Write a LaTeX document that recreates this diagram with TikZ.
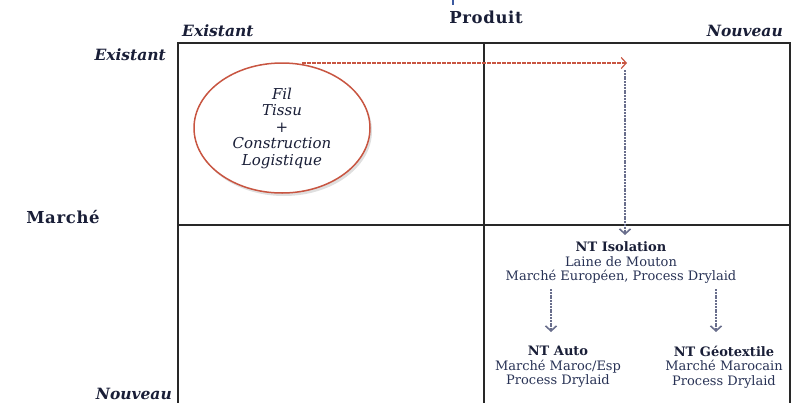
\documentclass[tikz,border=0pt]{standalone}
\usepackage{fontspec}
\setmainfont{DejaVu Serif}
\usetikzlibrary{arrows.meta,shadows,shapes.geometric}
\definecolor{ink}{RGB}{25,30,55}
\definecolor{bodyink}{RGB}{40,50,85}
\definecolor{gridline}{RGB}{40,40,40}
\definecolor{rust}{RGB}{200,85,65}
\definecolor{slate}{RGB}{105,110,140}
\definecolor{tickblue}{RGB}{60,90,160}
\begin{document}
\begin{tikzpicture}[x=1pt,y=-1pt,
  gridstyle/.style={draw=gridline,line width=1.5pt},
  axislabel/.style={font=\bfseries\fontsize{16.5}{18}\selectfont\addfontfeatures{LetterSpace=4},text=ink,inner sep=0pt},
  poslabel/.style={font=\bfseries\itshape\fontsize{15.5}{17}\selectfont,text=ink,inner sep=0pt},
  itemtext/.style={font=\fontsize{13}{14.5}\selectfont,text=bodyink,align=center,inner sep=0pt},
  flowarrow/.style={draw=slate,line width=1.8pt,dash pattern=on 2pt off 0.8pt,-{Straight Barb[length=5pt,width=11pt,line width=1.6pt]}},
  leadarrow/.style={draw=rust,line width=1.2pt,dash pattern=on 3.5pt off 1.5pt,-{Straight Barb[length=5pt,width=11pt]}}
]
\useasboundingbox (0,0) rectangle (795,402);

% small tick above the heading
\draw[tickblue,line width=1.4pt] (453,0) -- (453,5);

% matrix grid
\draw[gridstyle] (178,403) -- (178,43) -- (790,43) -- (790,403);
\draw[gridstyle] (484,43) -- (484,403);
\draw[gridstyle] (178,225) -- (790,225);

% axis headings
\node[axislabel] (produit) at (486,17) {Produit};
\node[axislabel] (marche) at (63,217) {Marché};
\node[poslabel,anchor=west] (pexist) at (182,31) {Existant};
\node[poslabel,anchor=east] (pnouv) at (783,31) {Nouveau};
\node[poslabel,anchor=east] (mexist) at (166,55) {Existant};
\node[poslabel,anchor=east] (mnouv) at (172,394) {Nouveau};

% current activities
\node[draw=rust,line width=1.5pt,fill=white,ellipse,minimum width=176pt,minimum height=130pt,
      drop shadow={shadow xshift=2pt,shadow yshift=-3pt,opacity=0.25},
      font=\itshape\fontsize{15}{16.5}\selectfont,text=ink,align=center,inner sep=0pt]
  (current) at (282,128) {Fil\\Tissu\\+\\Construction\\Logistique};
\coordinate (leadstart) at (302,63);
\coordinate (leadend) at (627,63);
\coordinate (dropstart) at (625,70);
\coordinate (dropend) at (625,235);

% new technologies
\node[itemtext] (iso) at (621,263) {\textbf{\textcolor{ink}{NT Isolation}}\\Laine de Mouton\\Marché Européen, Process Drylaid};
\node[itemtext] (auto) at (558,367) {\textbf{\textcolor{ink}{NT Auto}}\\Marché Maroc/Esp\\Process Drylaid};
\node[itemtext] (geo) at (724,367) {\textbf{\textcolor{ink}{NT Géotextile}}\\Marché Marocain\\Process Drylaid};
\coordinate (splitl) at (551,289);
\coordinate (splitr) at (716,289);
\coordinate (autoin) at (551,332);
\coordinate (geoin) at (716,332);

% arrows
\draw[leadarrow] (leadstart) -- (leadend);
\draw[flowarrow] (dropstart) -- (dropend);
\draw[flowarrow] (splitl) -- (autoin);
\draw[flowarrow] (splitr) -- (geoin);
\end{tikzpicture}
\end{document}
